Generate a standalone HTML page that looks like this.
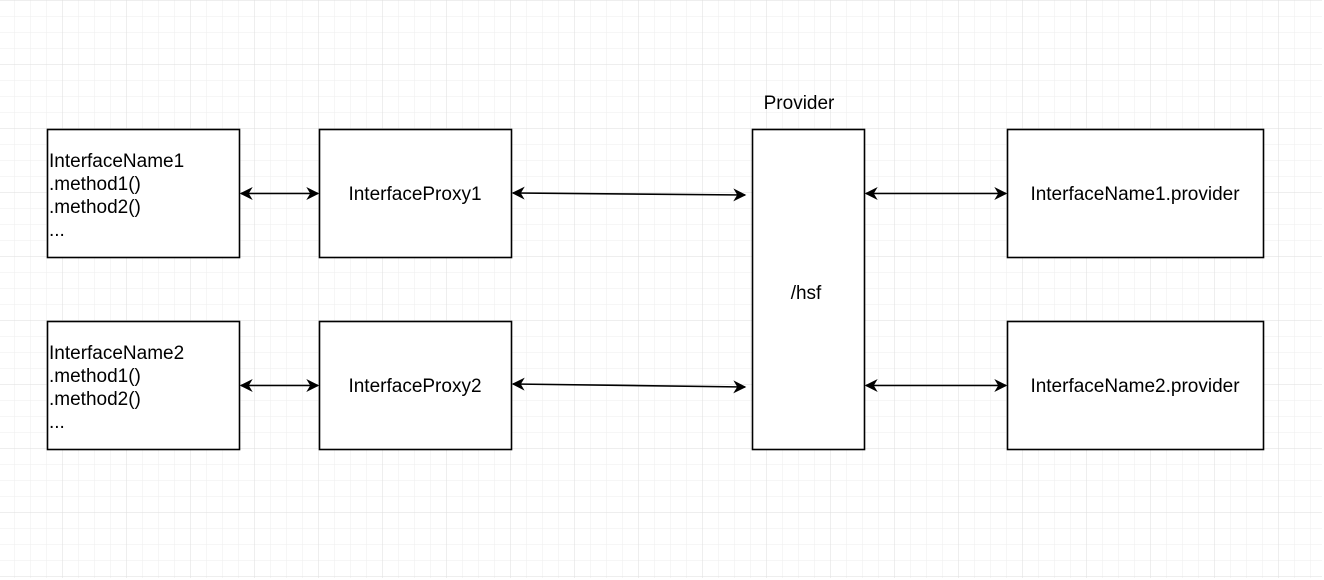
<!DOCTYPE html>
<html><head><meta charset="utf-8"><style>
body{margin:0;width:1324px;height:580px;overflow:hidden;background:#fff;font-family:"Liberation Sans",sans-serif;}
svg{position:absolute;left:0;top:0}
</style></head><body>
<svg width="1324" height="580" xmlns="http://www.w3.org/2000/svg">
<defs>
<pattern id="mi" width="16" height="16" patternUnits="userSpaceOnUse" x="-2" y="0">
<path d="M0 0H16M0 0V16" stroke="#eeeeee" stroke-width="1" fill="none"/>
</pattern>
<pattern id="ma" width="64" height="64" patternUnits="userSpaceOnUse" x="-2" y="0">
<path d="M0 0H64M0 0V64" stroke="#dddddd" stroke-width="1" fill="none"/>
</pattern>
<marker id="a" viewBox="0 0 10 10" refX="9" refY="5" markerWidth="14" markerHeight="13" markerUnits="userSpaceOnUse" orient="auto-start-reverse">
<path d="M0 0L10 5L0 10L3 5z" fill="#000"/>
</marker>
</defs>
<rect x="0" y="0" width="1322" height="578" fill="url(#mi)"/>
<rect x="0" y="0" width="1322" height="578" fill="url(#ma)"/>
<g fill="#fff" stroke="#000" stroke-width="1.6">
<rect x="47.5" y="129.5" width="192" height="128"/>
<rect x="319.5" y="129.5" width="192" height="128"/>
<rect x="47.5" y="321.5" width="192" height="128"/>
<rect x="319.5" y="321.5" width="192" height="128"/>
<rect x="752.5" y="129.5" width="112" height="320"/>
<rect x="1007.5" y="129.5" width="256" height="128"/>
<rect x="1007.5" y="321.5" width="256" height="128"/>
</g>
<g stroke="#000" stroke-width="1.6" marker-start="url(#a)" marker-end="url(#a)">
<line x1="241" y1="193.5" x2="318" y2="193.5"/>
<line x1="513" y1="193" x2="745" y2="195"/>
<line x1="866" y1="193.5" x2="1006" y2="193.5"/>
<line x1="241" y1="385.5" x2="318" y2="385.5"/>
<line x1="513" y1="384" x2="745" y2="387"/>
<line x1="866" y1="385.5" x2="1006" y2="385.5"/>
</g>
<g font-size="19" fill="#000" font-family="Liberation Sans, sans-serif">
<text x="49" y="167">InterfaceName1</text>
<text x="49" y="190">.method1()</text>
<text x="49" y="213">.method2()</text>
<text x="49" y="236">...</text>
<text x="49" y="359">InterfaceName2</text>
<text x="49" y="382">.method1()</text>
<text x="49" y="405">.method2()</text>
<text x="49" y="428">...</text>
<text x="415" y="200" text-anchor="middle">InterfaceProxy1</text>
<text x="415" y="392" text-anchor="middle">InterfaceProxy2</text>
<text x="799" y="109" text-anchor="middle">Provider</text>
<text x="806" y="299" text-anchor="middle">/hsf</text>
<text x="1135" y="200" text-anchor="middle">InterfaceName1.provider</text>
<text x="1135" y="392" text-anchor="middle">InterfaceName2.provider</text>
</g>
</svg>
</body></html>
